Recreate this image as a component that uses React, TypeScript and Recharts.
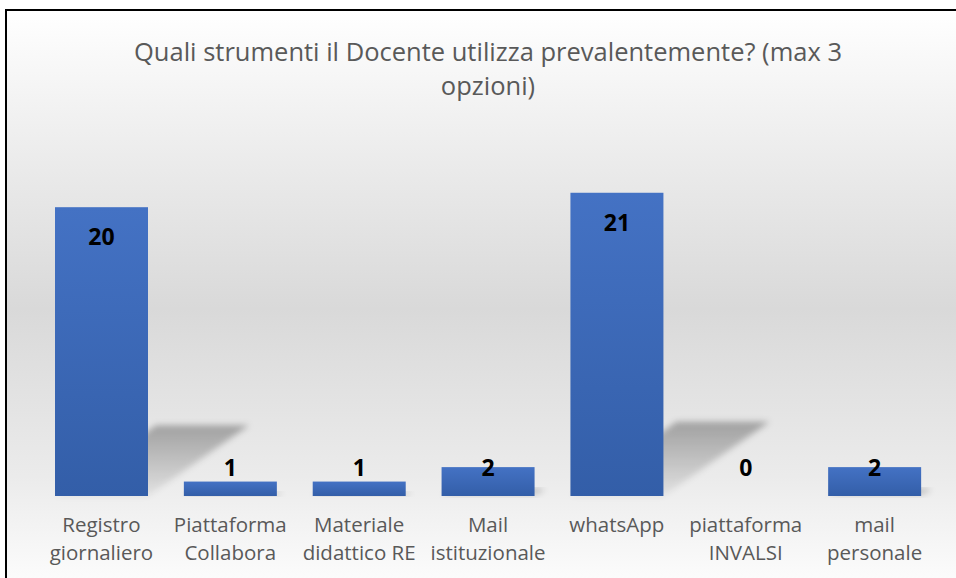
import { Bar, BarChart, LabelList, XAxis, YAxis } from "recharts";

const categories = [
  "Registro\ngiornaliero",
  "Piattaforma\nCollabora",
  "Materiale\ndidattico RE",
  "Mail\nistituzionale",
  "whatsApp",
  "piattaforma\nINVALSI",
  "mail\npersonale",
];
const answers = [20, 1, 1, 2, 21, 0, 2];

const titleLines = [
  "Quali strumenti il Docente utilizza prevalentemente? (max 3",
  "opzioni)",
];

const data = categories.map((c, i) => ({ name: c, value: answers[i] }));

const FONT = "'Open Sans', Lato, sans-serif";

function ShadowBar(props: any) {
  const { x, y, width, height } = props;
  if (height <= 0) return null;
  const base = y + height;
  const dx = height * 0.35;
  const dy = height * 0.245;
  const pts = [
    [x, base],
    [x + width, base],
    [x + width + dx, base - dy],
    [x + dx, base - dy],
  ]
    .map((p) => p.join(","))
    .join(" ");
  return (
    <g>
      <polygon points={pts} fill="url(#shadowFill)" filter="url(#shadowBlur)" />
      <rect x={x} y={y} width={width} height={height} fill="url(#barFill)" />
    </g>
  );
}

function ValueLabel(props: any) {
  const { x, y, width, height, value } = props;
  // inside end for tall bars, pushed above the bar when it is too short
  const cy = Math.min(y + 29, y + height - 29);
  return (
    <text
      x={x + width / 2}
      y={cy}
      textAnchor="middle"
      dominantBaseline="central"
      fontFamily={FONT}
      fontWeight={700}
      fontSize={23}
      fill="#000"
    >
      {value}
    </text>
  );
}

function CategoryTick(props: any) {
  const { x, y, payload } = props;
  const lines = String(payload.value).split("\n");
  return (
    <text
      x={x}
      y={y}
      textAnchor="middle"
      fontFamily={FONT}
      fontSize={20.5}
      fill="#595959"
    >
      {lines.map((l, i) => (
        <tspan key={i} x={x} dy={i === 0 ? 30 : 28}>
          {l}
        </tspan>
      ))}
    </text>
  );
}

export default function App() {
  return (
    <div
      style={{
        position: "absolute",
        left: 0,
        top: 0,
        width: 956,
        height: 578,
        overflow: "hidden",
        background: "#fff",
      }}
    >
      <div
        style={{
          position: "absolute",
          left: 5,
          top: 9,
          width: 1000,
          height: 620,
          border: "2px solid #000",
          background:
            "linear-gradient(to bottom, #ffffff 0%, #f0f0f0 18%, #d9d9d9 48%, #ebebeb 75%, #fcfcfc 92%, #ffffff 100%)",
        }}
      />
      <div
        style={{
          position: "absolute",
          left: 0,
          top: 34,
          width: 976,
          textAlign: "center",
          fontFamily: FONT,
          fontSize: 25.5,
          lineHeight: "34px",
          color: "#595959",
        }}
      >
        {titleLines.map((t) => (
          <div key={t}>{t}</div>
        ))}
      </div>
      <div style={{ position: "absolute", left: 0, top: 0 }}>
        <BarChart
          width={956}
          height={578}
          data={data}
          margin={{ top: 135, right: 17, left: 37, bottom: 0 }}
        >
          <defs>
            <linearGradient id="barFill" x1="0" y1="0" x2="0" y2="1">
              <stop offset="0%" stopColor="#4472c4" />
              <stop offset="100%" stopColor="#335ea8" />
            </linearGradient>
            <linearGradient id="shadowFill" x1="0" y1="0" x2="0" y2="1">
              <stop offset="0%" stopColor="#000" stopOpacity={0.3} />
              <stop offset="100%" stopColor="#000" stopOpacity={0.05} />
            </linearGradient>
            <filter id="shadowBlur" x="-20%" y="-20%" width="140%" height="140%">
              <feGaussianBlur stdDeviation="3" />
            </filter>
          </defs>
          <XAxis
            dataKey="name"
            height={82}
            axisLine={false}
            tickLine={false}
            tickMargin={0}
            interval={0}
            tick={<CategoryTick />}
          />
          <YAxis hide domain={[0, 25]} />
          <Bar
            dataKey="value"
            barSize={93}
            shape={<ShadowBar />}
            isAnimationActive={false}
          >
            <LabelList dataKey="value" content={<ValueLabel />} />
          </Bar>
        </BarChart>
      </div>
    </div>
  );
}
